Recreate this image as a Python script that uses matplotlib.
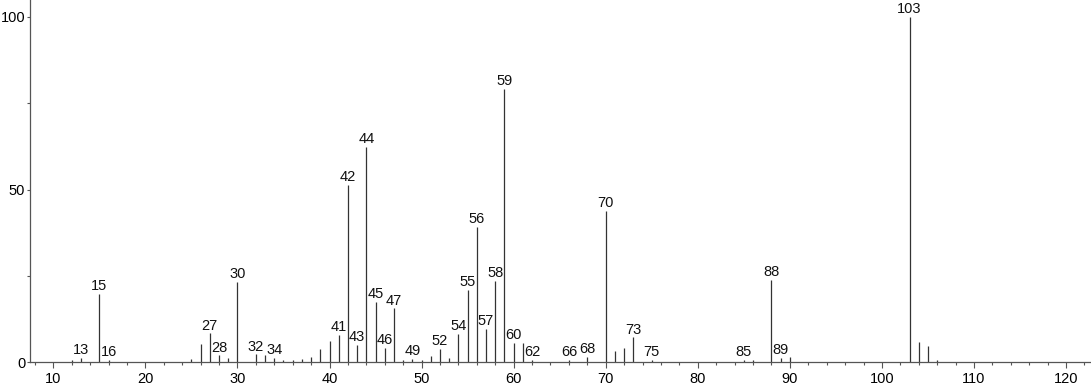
import matplotlib

matplotlib.use("Agg")
import matplotlib.pyplot as plt
from matplotlib.ticker import MultipleLocator

plt.rcParams["font.family"] = ["Liberation Sans", "DejaVu Sans"]

# m/z and relative intensity
mz = [12, 13, 15, 16, 25, 26, 27, 28, 29, 30, 32, 33, 34, 35, 36, 37, 38, 39, 40,
      41, 42, 43, 44, 45, 46, 47, 48, 49, 50, 51, 52, 53, 54, 55, 56, 57, 58, 59,
      60, 61, 62, 66, 68, 70, 71, 72, 73, 75, 85, 86, 88, 89, 90,
      103, 104, 105, 106]
intensity = [0.7, 1.2, 19.8, 0.7, 1.0, 5.2, 8.4, 2.0, 1.2, 23.4, 2.3, 2.0, 1.2, 0.7,
             0.7, 1.0, 1.6, 3.9, 6.2, 7.9, 51.3, 5.0, 62.4, 17.5, 4.2, 15.6, 0.7,
             1.0, 0.6, 1.8, 3.9, 1.2, 8.2, 20.9, 39.3, 9.7, 23.5, 79.2, 5.7, 5.7,
             0.7, 0.7, 1.6, 43.8, 3.3, 4.2, 7.2, 0.7, 0.7, 0.7, 23.8, 1.2, 1.5,
             100.0, 5.8, 4.7, 0.7]
labelled = [13, 15, 16, 27, 28, 30, 32, 34, 41, 42, 43, 44, 45, 46, 47, 49, 52,
            54, 55, 56, 57, 58, 59, 60, 62, 66, 68, 70, 73, 75, 85, 88, 89, 103]

fig = plt.figure(figsize=(10.91, 3.87), dpi=100)
ax = fig.add_axes([0.0275, 0.0638, 0.9716, 0.936])

ax.vlines(mz, 0, intensity, color="#333333", lw=0.9)
peaks = dict(zip(mz, intensity))
for m in labelled:
    ax.annotate(str(m), (m, peaks[m]), xytext=(0, 0.5), textcoords="offset points",
                ha="center", va="bottom", fontsize=10.5, color="#111111")

ax.set_xlim(7.47, 122.6)
ax.set_ylim(0, 104.9)
ax.xaxis.set_major_locator(MultipleLocator(10))
ax.xaxis.set_minor_locator(MultipleLocator(2))
ax.yaxis.set_major_locator(MultipleLocator(50))
ax.yaxis.set_minor_locator(MultipleLocator(25))
ax.tick_params(axis="x", which="major", length=4.5, width=0.8, color="#555555",
               labelsize=10.5, pad=2.5)
ax.tick_params(axis="y", which="major", length=2.5, width=0.8, color="#555555",
               labelsize=10.5, pad=1)
ax.tick_params(axis="both", which="minor", length=2.5, width=0.8, color="#555555")
for side in ("top", "right"):
    ax.spines[side].set_visible(False)
for side in ("left", "bottom"):
    ax.spines[side].set_color("#555555")
    ax.spines[side].set_linewidth(0.9)

fig.savefig("out.png", dpi=100)
